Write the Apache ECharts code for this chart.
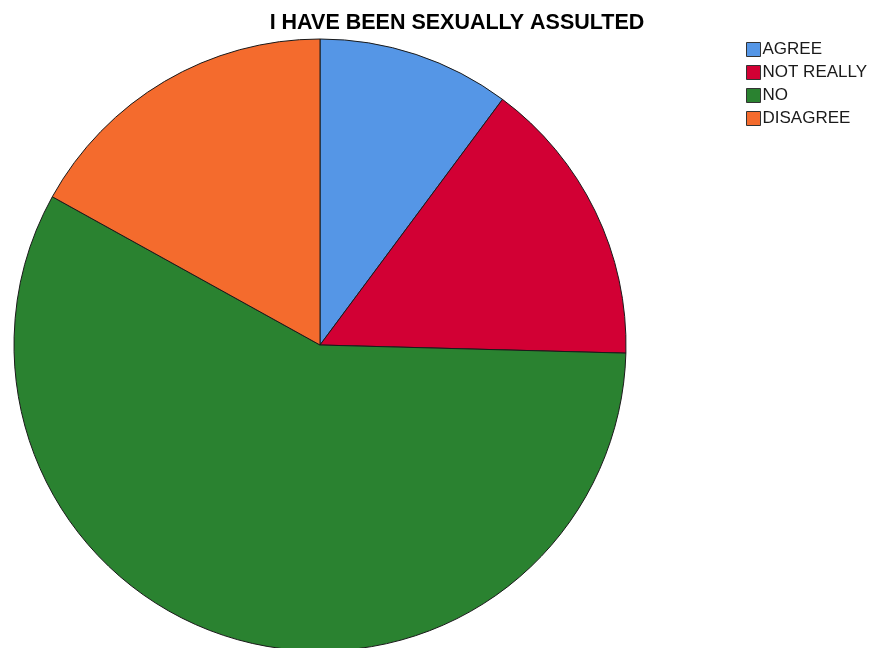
<!DOCTYPE html>
<html>
<head>
<meta charset="utf-8">
<script src="https://cdn.jsdelivr.net/npm/echarts@6/dist/echarts.min.js"></script>
<style>
  html, body { margin: 0; padding: 0; background: #ffffff; }
  #chart { width: 871px; height: 648px; }
</style>
</head>
<body>
<div id="chart"></div>
<script>
// Survey responses
const categories = ['AGREE', 'NOT REALLY', 'NO', 'DISAGREE'];
const counts = [6, 9, 34, 10];
const colors = ['#5596E6', '#D20034', '#2A8230', '#F46B2D'];

const chart = echarts.init(document.getElementById('chart'), null, { renderer: 'canvas' });

chart.setOption({
  animation: false,
  backgroundColor: '#ffffff',
  title: {
    text: 'I HAVE BEEN SEXUALLY ASSULTED',
    left: 452,
    textAlign: 'center',
    top: 7,
    textStyle: {
      fontFamily: 'Liberation Sans, Arial, sans-serif',
      fontSize: 21.5,
      fontWeight: 'bold',
      color: '#000000'
    }
  },
  legend: {
    orient: 'vertical',
    left: 741,
    top: 36,
    itemWidth: 14,
    itemHeight: 14,
    itemGap: 6,
    icon: 'rect',
    selectedMode: false,
    itemStyle: { borderColor: '#333333', borderWidth: 1 },
    textStyle: {
      fontFamily: 'Liberation Sans, Arial, sans-serif',
      fontSize: 17,
      lineHeight: 15,
      color: '#1a1a1a',
      padding: [0, 0, 0, -3]
    },
    data: categories
  },
  series: [{
    type: 'pie',
    center: [320, 345],
    radius: 306,
    startAngle: 90,
    clockwise: true,
    label: { show: false },
    labelLine: { show: false },
    emphasis: { disabled: true },
    itemStyle: { borderColor: '#1a1a1a', borderWidth: 1 },
    data: categories.map((name, i) => ({
      name: name,
      value: counts[i],
      itemStyle: { color: colors[i] }
    }))
  }]
});
</script>
</body>
</html>
